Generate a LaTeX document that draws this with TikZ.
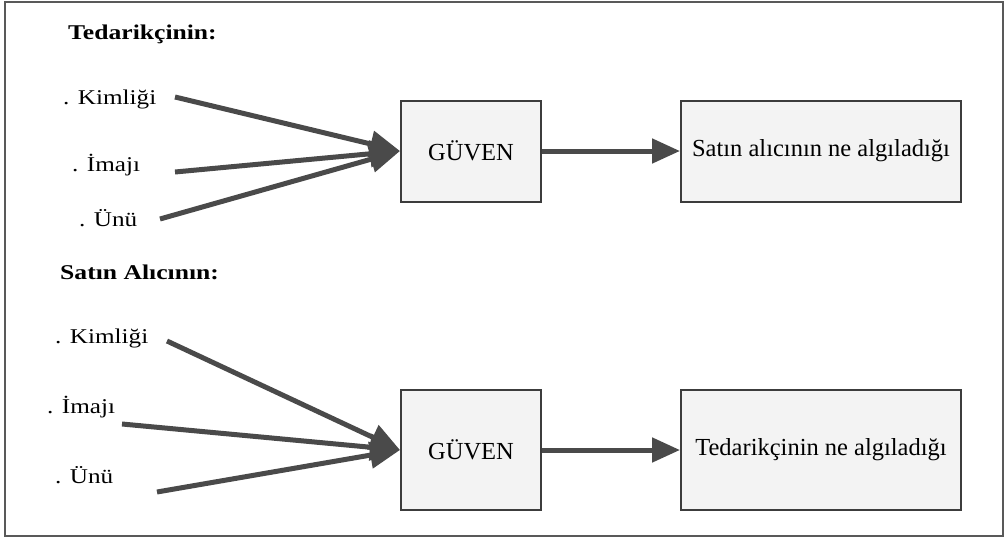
\documentclass[tikz,border=0pt]{standalone}
\usepackage{fontspec}
\setmainfont{Liberation Serif}
\usetikzlibrary{arrows.meta}
\definecolor{linegray}{HTML}{4A4A4A}
\definecolor{boxfill}{HTML}{F3F3F3}
\definecolor{boxline}{HTML}{3C3C3C}
\tikzset{
  thebox/.style={draw=boxline, line width=2pt, fill=boxfill, inner sep=0pt},
  heading/.style={anchor=base west, inner sep=0pt, font=\fontsize{21}{23}\selectfont\bfseries},
  item/.style={anchor=base west, inner sep=0pt, font=\fontsize{21}{23}\selectfont},
  boxtext/.style={font=\fontsize{24.5}{27}\selectfont},
  inarrow/.style={draw=linegray, line width=5pt, -{Triangle[length=30pt,width=26pt]}},
  outarrow/.style={draw=linegray, line width=5pt, -{Triangle[length=28pt,width=24pt]}}
}
\begin{document}
\begin{tikzpicture}[x=1pt,y=-1pt]
\useasboundingbox (0,0) rectangle (1005,538);
\draw[draw=gray!70!black, line width=2pt] (5,1.5) rectangle (1003,536);

% ---- top part
\node[heading] (h1) at (68,39) {\scalebox{1.22}[1]{Tedarikçinin:}};
\node[item] (t1) at (63,104) {\scalebox{1.2}[1]{. Kimliği}};
\node[item] (t2) at (72,171) {\scalebox{1.2}[1]{. İmajı}};
\node[item] (t3) at (79,226) {\scalebox{1.2}[1]{. Ünü}};
\node[thebox, minimum width=140pt, minimum height=101pt, boxtext] (g1) at (471,151) {GÜVEN};
\node[thebox, minimum width=280pt, minimum height=101pt, boxtext] (r1) at (821,151) {Satın alıcının ne algıladığı};
\coordinate (t1s) at (175,97);
\coordinate (t2s) at (175,172);
\coordinate (t3s) at (160,219);
\draw[inarrow] (t1s) -- (g1.west);
\draw[inarrow] (t2s) -- (g1.west);
\draw[inarrow] (t3s) -- (g1.west);
\draw[outarrow] (g1.east) -- (r1.west);

% ---- bottom part
\node[heading] (h2) at (60,279) {\scalebox{1.22}[1]{Satın Alıcının:}};
\node[item] (b1) at (55,343) {\scalebox{1.2}[1]{. Kimliği}};
\node[item] (b2) at (47,413) {\scalebox{1.2}[1]{. İmajı}};
\node[item] (b3) at (55,483) {\scalebox{1.2}[1]{. Ünü}};
\node[thebox, minimum width=140pt, minimum height=120pt, boxtext] (g2) at (471,450) {GÜVEN};
\node[thebox, minimum width=280pt, minimum height=120pt, boxtext] (r2) at (821,450) {Tedarikçinin ne algıladığı};
\coordinate (b1s) at (167,341);
\coordinate (b2s) at (122,424);
\coordinate (b3s) at (157,492);
\draw[inarrow] (b1s) -- (g2.west);
\draw[inarrow] (b2s) -- (g2.west);
\draw[inarrow] (b3s) -- (g2.west);
\draw[outarrow] (g2.east) -- (r2.west);
\end{tikzpicture}
\end{document}
